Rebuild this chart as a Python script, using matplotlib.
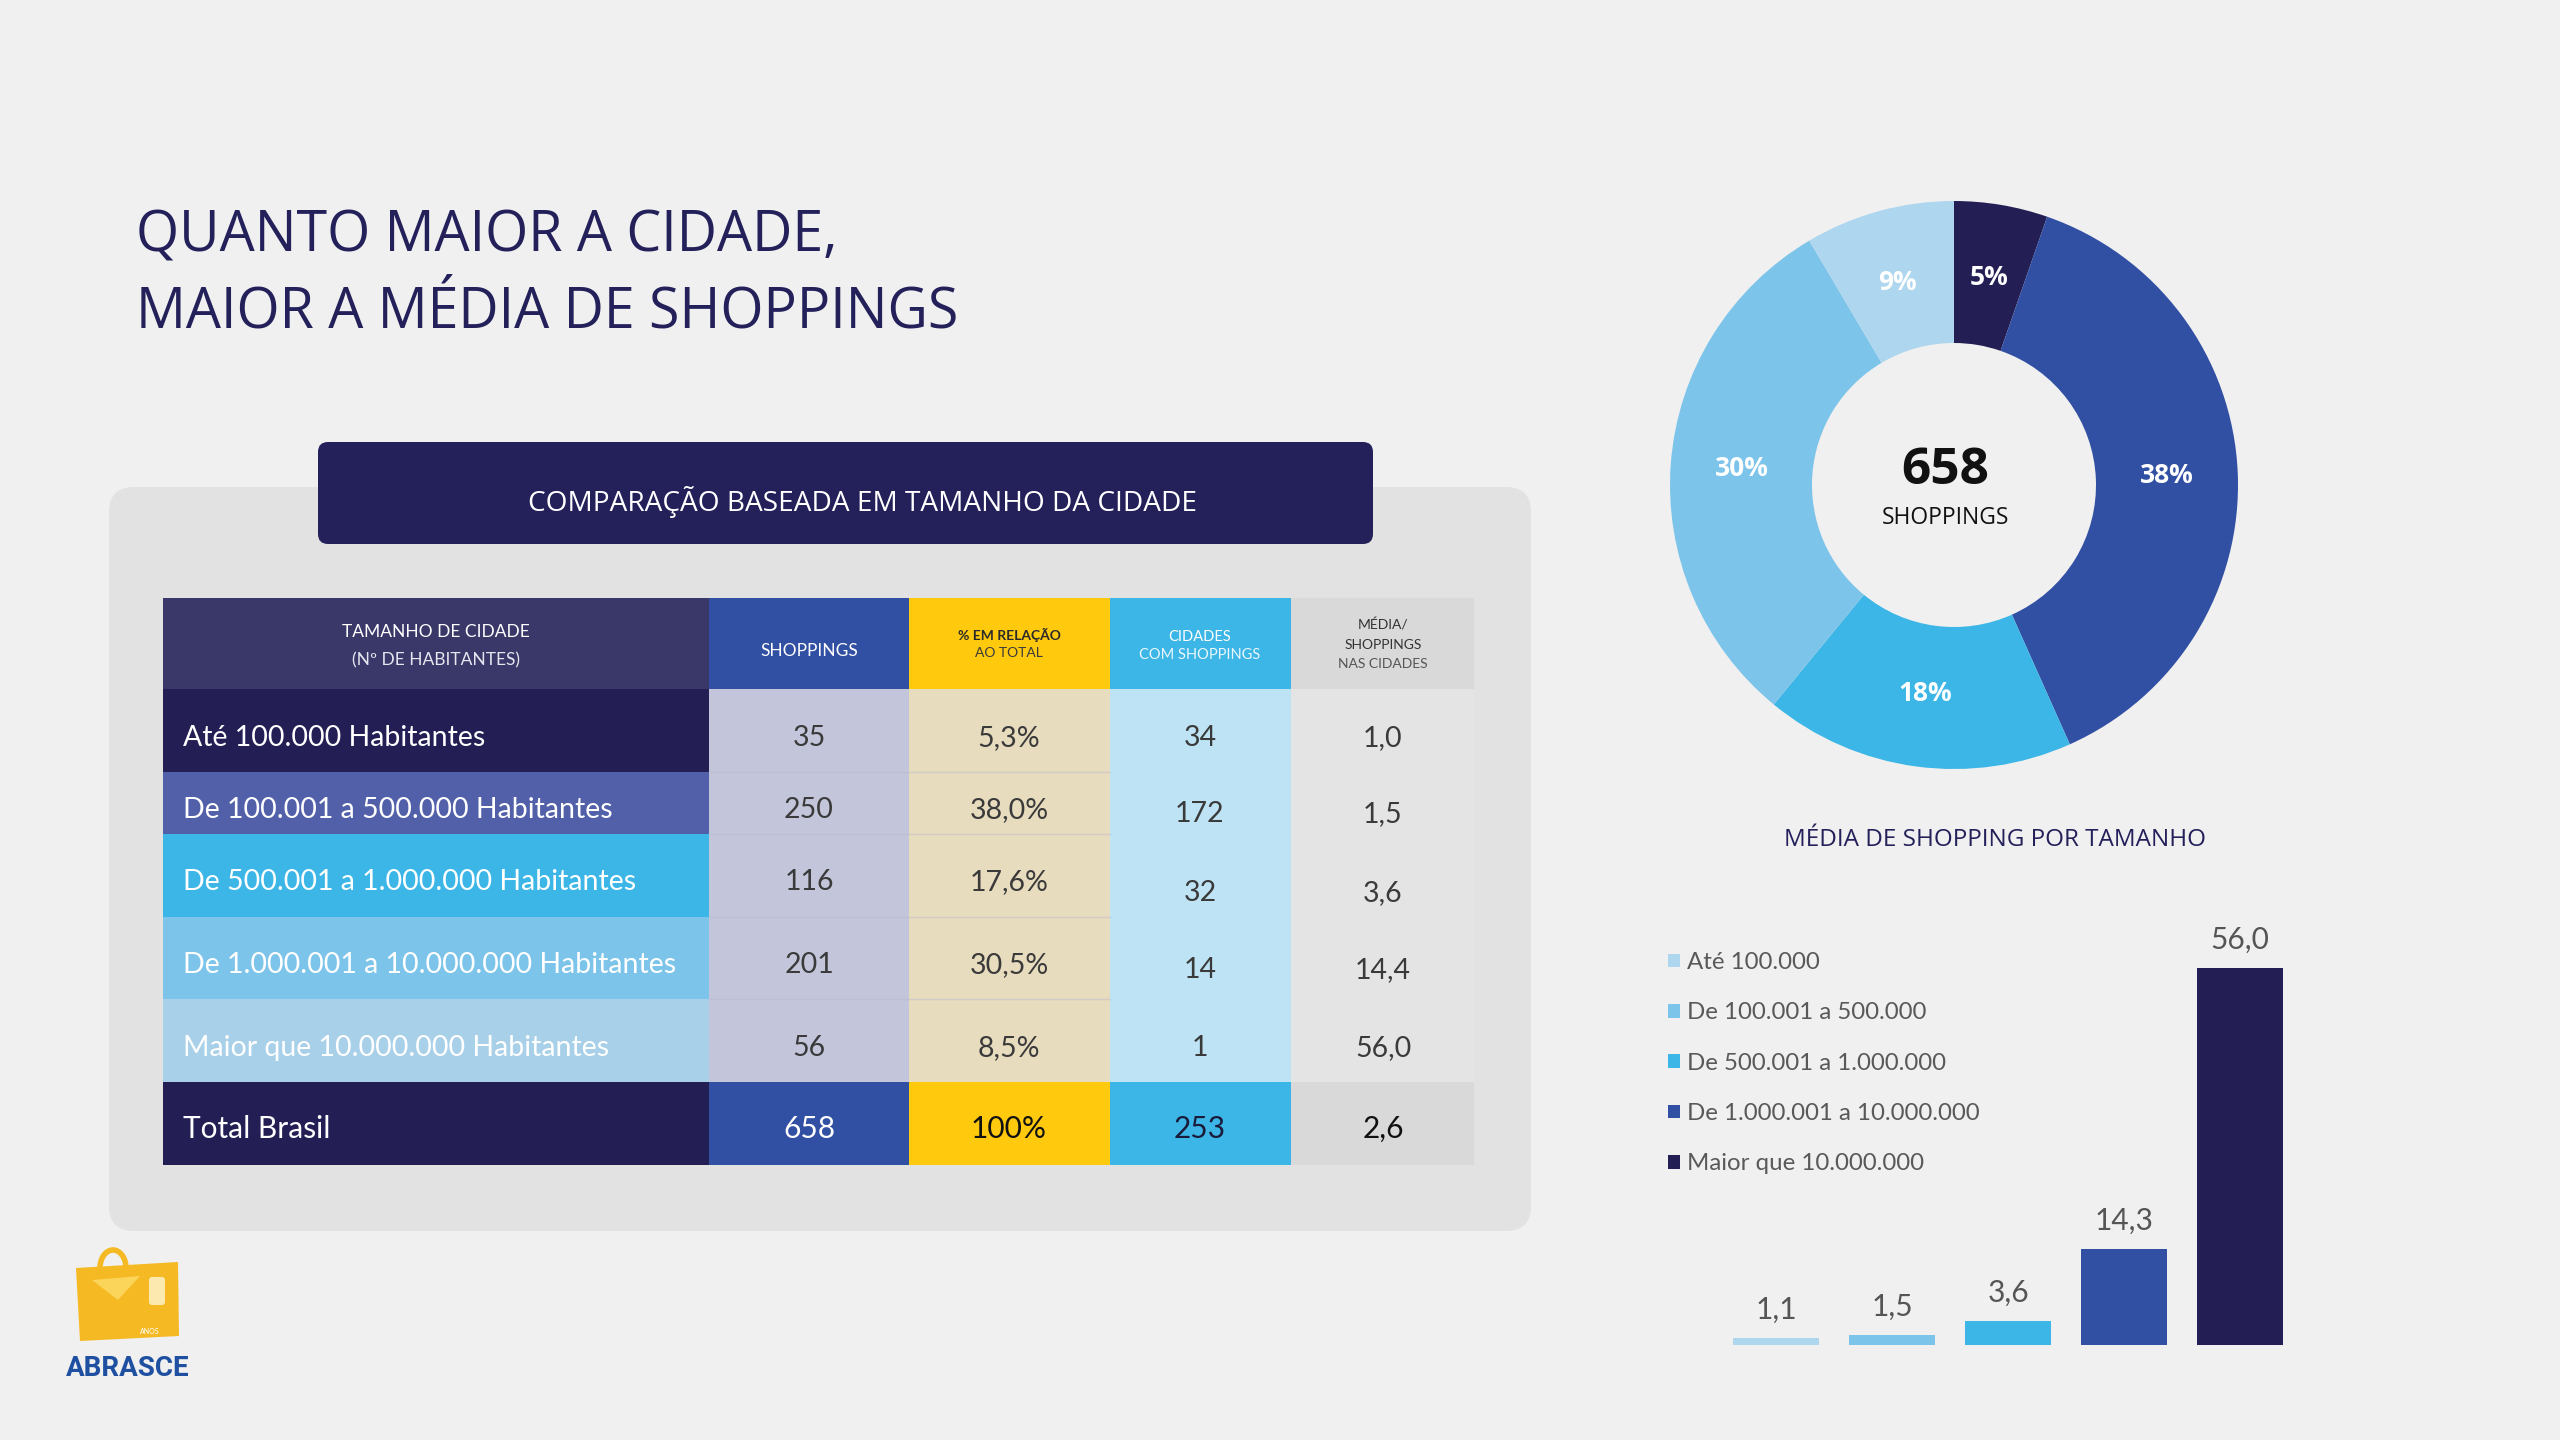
import matplotlib
matplotlib.use('Agg')
import matplotlib.pyplot as plt
from matplotlib.patches import Rectangle, FancyBboxPatch, Polygon, Arc
import numpy as np

# ---------------- data ----------------
title_lines = ['QUANTO MAIOR A CIDADE,', 'MAIOR A MÉDIA DE SHOPPINGS']
banner_text = 'COMPARAÇÃO BASEADA EM TAMANHO DA CIDADE'

header_left = ['TAMANHO DE CIDADE', '(Nº DE HABITANTES)']
row_labels = ['Até 100.000 Habitantes', 'De 100.001 a 500.000 Habitantes',
              'De 500.001 a 1.000.000 Habitantes', 'De 1.000.001 a 10.000.000 Habitantes',
              'Maior que 10.000.000 Habitantes']
shoppings = [35, 250, 116, 201, 56]
pct_total = ['5,3%', '38,0%', '17,6%', '30,5%', '8,5%']
cidades = [34, 172, 32, 14, 1]
media = ['1,0', '1,5', '3,6', '14,4', '56,0']
total_label = 'Total Brasil'
total_values = ['658', '100%', '253', '2,6']

donut_values = [35, 250, 116, 201, 56]
donut_labels = ['5%', '38%', '18%', '30%', '9%']
donut_total = '658'
donut_caption = 'SHOPPINGS'

bar_title = 'MÉDIA DE SHOPPING POR TAMANHO'
bar_categories = ['Até 100.000', 'De 100.001 a 500.000', 'De 500.001 a 1.000.000',
                  'De 1.000.001 a 10.000.000', 'Maior que 10.000.000']
bar_values = [1.1, 1.5, 3.6, 14.3, 56.0]
bar_labels = ['1,1', '1,5', '3,6', '14,3', '56,0']

# ---------------- style ----------------
W, H = 2560, 1440
BG = '#F0F0F0'
NAVY = '#23205A'
DARK = '#231F55'
BLUE = '#314FA3'
CYAN = '#3CB6E6'
LIGHT = '#7DC4EA'
PALE = '#AED6EE'
YELLOW = '#FFC90E'
TITLE_FONT = ['Open Sans', 'DejaVu Sans']
BODY_FONT = ['Lato', 'DejaVu Sans']

fig = plt.figure(figsize=(W / 100, H / 100), dpi=100, facecolor=BG)
ax = fig.add_axes([0, 0, 1, 1])
ax.set_xlim(0, W)
ax.set_ylim(H, 0)
ax.axis('off')
ax.set_facecolor(BG)

# title
for i, line in enumerate(title_lines):
    ax.text(136, 237 + i * 76, line, color=NAVY, fontsize=40, family=TITLE_FONT,
            va='center', ha='left')

# grey panel and banner
ax.add_patch(FancyBboxPatch((109 + 25, 487 + 25), 1422 - 50, 744 - 50,
                            boxstyle='round,pad=25', fc='#E1E2E1', ec='none'))
ax.add_patch(FancyBboxPatch((318 + 10, 442 + 10), 1055 - 20, 102 - 20,
                            boxstyle='round,pad=10', fc=NAVY, ec='none'))
ax.text(862, 502, banner_text, color='white', fontsize=20.2, family=TITLE_FONT,
        ha='center', va='center')

# ---------------- table ----------------
xe = [163, 709, 909, 1110, 1291, 1474]
hdr_top, hdr_bot = 598, 689
row_edges = [689, 772, 834, 917, 999, 1082]
tot_top, tot_bot = 1082, 1165

hdr_colors = ['#3A3868', BLUE, YELLOW, CYAN, '#D9D9D9']
for j in range(5):
    ax.add_patch(Rectangle((xe[j], hdr_top), xe[j + 1] - xe[j], hdr_bot - hdr_top,
                           fc=hdr_colors[j], ec='none'))
col_bg = ['#C3C6DA', '#E8DCBE', '#BDE3F5', '#E3E4E3']
for j in range(4):
    ax.add_patch(Rectangle((xe[j + 1], row_edges[0]), xe[j + 2] - xe[j + 1],
                           row_edges[-1] - row_edges[0], fc=col_bg[j], ec='none'))
for y in row_edges[1:-1]:
    ax.plot([xe[1], xe[3]], [y, y], color='#B6B9CC', lw=1.0, alpha=0.45)
left_colors = [DARK, '#5160A9', CYAN, LIGHT, '#A8D0E8']
for i in range(5):
    ax.add_patch(Rectangle((xe[0], row_edges[i]), xe[1] - xe[0],
                           row_edges[i + 1] - row_edges[i], fc=left_colors[i], ec='none'))
tot_colors = [DARK, BLUE, YELLOW, CYAN, '#D9D9D9']
for j in range(5):
    ax.add_patch(Rectangle((xe[j], tot_top), xe[j + 1] - xe[j], tot_bot - tot_top,
                           fc=tot_colors[j], ec='none'))

# header text
ax.text(436, 632, header_left[0], color='white', fontsize=12.5, family=BODY_FONT,
        ha='center', va='center')
ax.text(436, 660, header_left[1], color='#E6E6F0', fontsize=12.5, family=BODY_FONT,
        ha='center', va='center')
ax.text(809, 651, 'SHOPPINGS', color='white', fontsize=12.5, family=BODY_FONT,
        ha='center', va='center')
ax.text(1009, 635, '% EM RELAÇÃO', color='#2A2A2A', fontsize=10, family=BODY_FONT,
        ha='center', va='center', fontweight='bold')
ax.text(1009, 653, 'AO TOTAL', color='#3A3A3A', fontsize=10, family=BODY_FONT,
        ha='center', va='center')
ax.text(1200, 637, 'CIDADES', color='white', fontsize=10.5, family=BODY_FONT,
        ha='center', va='center')
ax.text(1200, 655, 'COM SHOPPINGS', color='#EAF6FC', fontsize=10.5, family=BODY_FONT,
        ha='center', va='center')
ax.text(1383, 625, 'MÉDIA/', color='#333333', fontsize=10, family=BODY_FONT,
        ha='center', va='center')
ax.text(1383, 645, 'SHOPPINGS', color='#333333', fontsize=10, family=BODY_FONT,
        ha='center', va='center')
ax.text(1383, 664, 'NAS CIDADES', color='#555555', fontsize=10, family=BODY_FONT,
        ha='center', va='center')

# body text
y_a = [738, 810, 882, 965, 1048]
y_b = [738, 814, 893, 970, 1048]
VAL = '#3A3A3A'
for i in range(5):
    ax.text(183, y_a[i], row_labels[i], color='white', fontsize=20.5, family=BODY_FONT,
            ha='left', va='center')
    ax.text(809, y_a[i], str(shoppings[i]), color=VAL, fontsize=20.5,
            family=BODY_FONT, ha='center', va='center')
    ax.text(1009, y_a[i], pct_total[i], color=VAL, fontsize=20.5,
            family=BODY_FONT, ha='center', va='center')
    ax.text(1200, y_b[i], str(cidades[i]), color=VAL, fontsize=20.5,
            family=BODY_FONT, ha='center', va='center')
    ax.text(1383, y_b[i], media[i], color=VAL, fontsize=20.5,
            family=BODY_FONT, ha='center', va='center')

ax.text(183, 1129, total_label, color='white', fontsize=21.5, family=BODY_FONT,
        ha='left', va='center')
tot_x = [809, 1009, 1200, 1383]
tot_col = ['white', '#111111', '#1A1A3A', '#111111']
for k in range(4):
    ax.text(tot_x[k], 1129, total_values[k], color=tot_col[k], fontsize=21.5,
            family=BODY_FONT, ha='center', va='center')

# ---------------- logo ----------------
ax.add_patch(Polygon([(76, 1268), (178, 1262), (179, 1336), (80, 1341)],
                     closed=True, fc='#F5B923', ec='none'))
ax.add_patch(Arc((113, 1268), 26, 36, theta1=180, theta2=360, color='#F5B923', lw=4))
ax.add_patch(Polygon([(92, 1280), (140, 1276), (118, 1300)], closed=True,
                     fc='#FBD45A', ec='none'))
ax.add_patch(FancyBboxPatch((152, 1280), 10, 22, boxstyle='round,pad=3',
                            fc='#FBE9B0', ec='none'))
ax.text(150, 1332, 'ANOS', color='white', fontsize=5, family=BODY_FONT,
        ha='center', va='center')
ax.text(128, 1368, 'ABRASCE', color='#1E4FA0', fontsize=20, family=['Roboto', 'DejaVu Sans'],
        fontweight='bold', ha='center', va='center')

# ---------------- donut ----------------
cx, cy, R = 1954, 485, 284
axd = fig.add_axes([(cx - R) / W, 1 - (cy + R) / H, 2 * R / W, 2 * R / H])
axd.set_facecolor('none')
donut_colors = [DARK, BLUE, CYAN, LIGHT, PALE]
wedges, _ = axd.pie(donut_values, colors=donut_colors, startangle=90,
                    counterclock=False, radius=1,
                    wedgeprops=dict(width=0.5, edgecolor='none'))
axd.set_xlim(-1, 1)
axd.set_ylim(-1, 1)
axd.set_aspect('equal')
for w, lab in zip(wedges, donut_labels):
    ang = np.deg2rad((w.theta1 + w.theta2) / 2)
    axd.text(0.75 * np.cos(ang), 0.74 * np.sin(ang), lab, color='white',
             fontsize=19, fontweight='bold', family=TITLE_FONT,
             ha='center', va='center')
axd.text(-0.03, 0.05, donut_total, color='#111111', fontsize=37, fontweight='bold',
         family=TITLE_FONT, ha='center', va='center')
axd.text(-0.03, -0.115, donut_caption, color='#111111', fontsize=16.5,
         family=TITLE_FONT, ha='center', va='center')

ax.text(1995, 840, bar_title, color=NAVY, fontsize=17.5, family=TITLE_FONT,
        ha='center', va='center')

# ---------------- bars ----------------
step = 116
x0c = 1776
bottom_px = 1345
ymax = 70
px_per_unit = 377 / 56.0
hgt = ymax * px_per_unit
axb = fig.add_axes([(x0c - step / 2) / W, 1 - bottom_px / H, 5 * step / W, hgt / H])
axb.set_facecolor('none')
bar_colors = [PALE, LIGHT, CYAN, BLUE, DARK]
xs = np.arange(len(bar_values))
bars = axb.bar(xs, bar_values, width=0.735, color=bar_colors)
axb.set_xlim(-0.5, 4.5)
axb.set_ylim(0, ymax)
axb.axis('off')
for b, lab in zip(bars, bar_labels):
    axb.annotate(lab, (b.get_x() + b.get_width() / 2, b.get_height()),
                 xytext=(0, 20), textcoords='offset points', ha='center', va='center',
                 fontsize=21.5, color='#555555', family=BODY_FONT)

leg = axb.legend(bars, bar_categories, loc='upper left',
                 bbox_to_anchor=(1668 / W, 1 - 952 / H), bbox_transform=fig.transFigure,
                 frameon=False, prop={'family': BODY_FONT, 'size': 17.3},
                 handlelength=0.5, handleheight=0.5, handletextpad=0.3,
                 labelspacing=1.22, borderpad=0, borderaxespad=0, labelcolor='#595959')

fig.savefig('out.png', dpi=100, facecolor=BG)
